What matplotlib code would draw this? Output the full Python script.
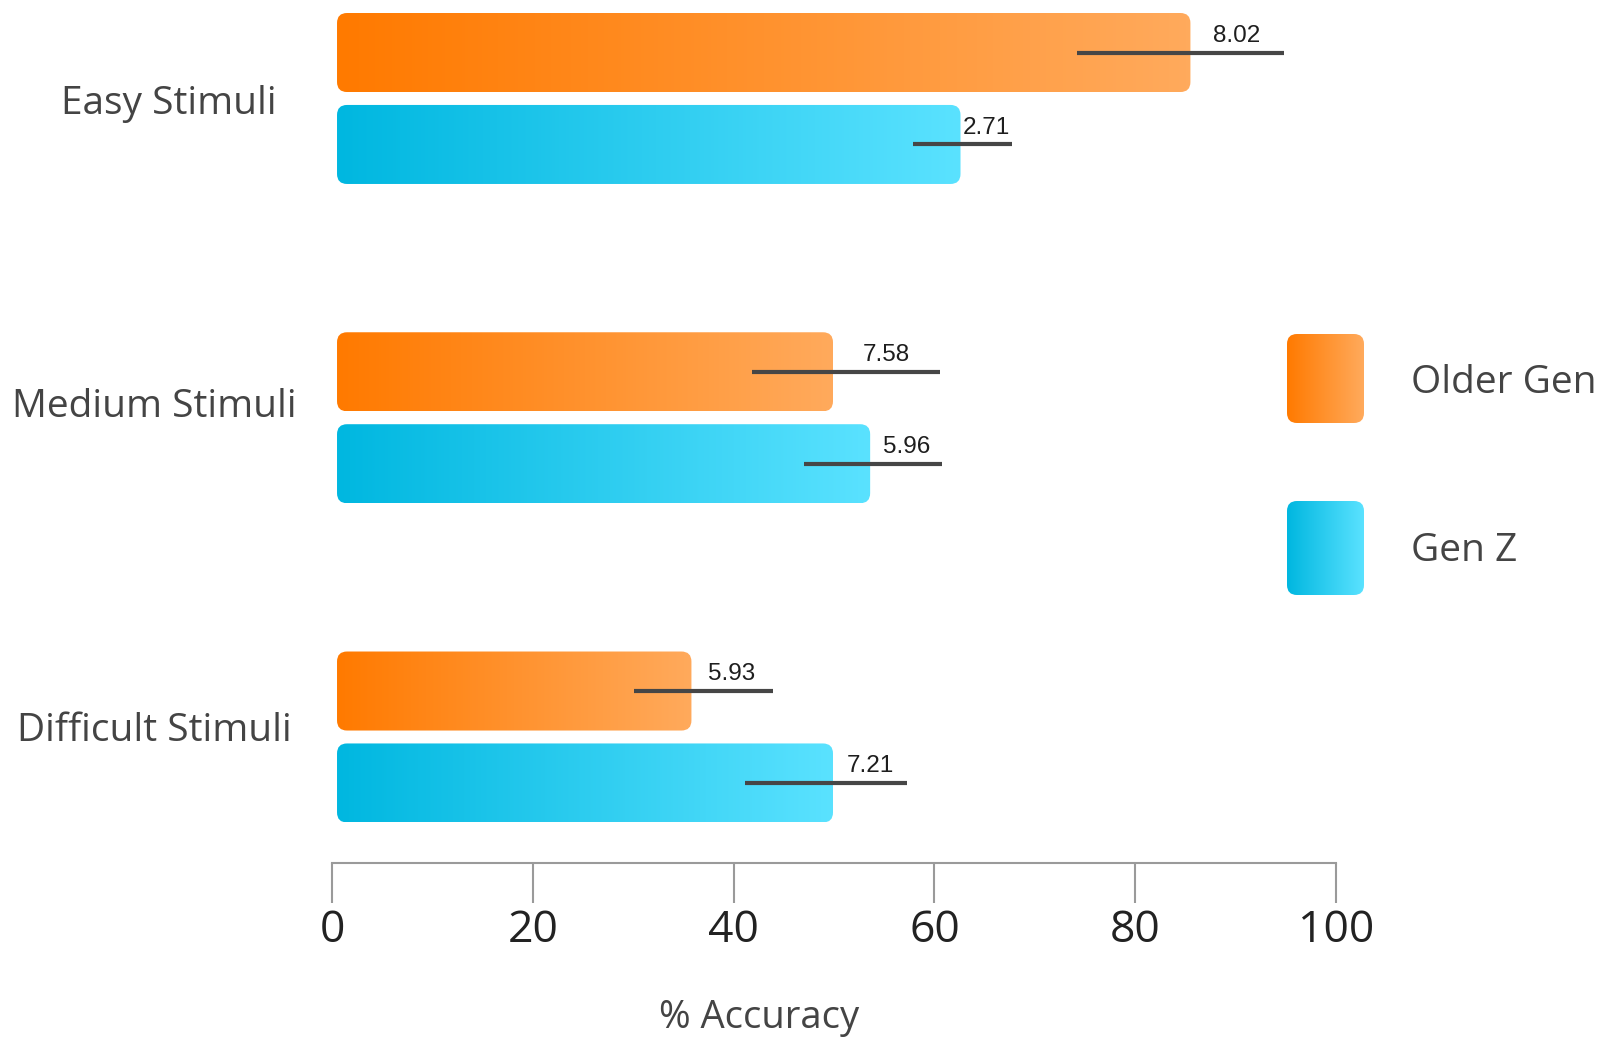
import numpy as np
import matplotlib
matplotlib.use("Agg")
import matplotlib.pyplot as plt
from matplotlib.colors import LinearSegmentedColormap
from matplotlib.patches import FancyBboxPatch

categories = ["Easy Stimuli", "Medium Stimuli", "Difficult Stimuli"]
older_gen = [85.5, 49.9, 35.8]
gen_z = [62.6, 53.6, 49.9]
older_err_mid = [84.5, 51.2, 37.0]
older_err = [10.3, 9.4, 6.9]
genz_err_mid = [62.8, 53.9, 49.2]
genz_err = [4.9, 6.9, 8.05]
older_sd_labels = ["8.02", "7.58", "5.93"]
genz_sd_labels = ["2.71", "5.96", "7.21"]
xticks = [0, 20, 40, 60, 80, 100]

main_font = ["Open Sans", "DejaVu Sans"]
orange_cmap = LinearSegmentedColormap.from_list("og", ["#ff7a00", "#ffaa5c"])
blue_cmap = LinearSegmentedColormap.from_list("gz", ["#00b7e0", "#5ae2ff"])

W, H = 1598, 1037
fig = plt.figure(figsize=(W / 100, H / 100), dpi=100)
ax = fig.add_axes([332 / W, (H - 863) / H, 1004 / W, 863 / H])
ax.patch.set_visible(False)

y = np.arange(len(categories))
bar_h = 0.2475
off = 0.144
left = 0.5
ylim = (2.3947, -0.3085)

older_bars = ax.barh(y - off, np.array(older_gen) - left, left=left, height=bar_h, color="none")
genz_bars = ax.barh(y + off, np.array(gen_z) - left, left=left, height=bar_h, color="none")

ax.set_xlim(0, 100)
ax.set_ylim(*ylim)

# px per data unit, for rounded corners
px_x = 1004 / 100
px_y = 863 / (ylim[0] - ylim[1])
radius_px = 10
grad = np.linspace(0, 1, 256).reshape(1, -1)


def gradient_bar(rect, cmap):
    x0, y0 = rect.get_x(), rect.get_y()
    w, h = rect.get_width(), rect.get_height()
    patch = FancyBboxPatch((x0, y0), w, h,
                           boxstyle=f"round,pad=0,rounding_size={radius_px / px_x}",
                           mutation_aspect=px_x / px_y,
                           facecolor="none", edgecolor="none")
    ax.add_patch(patch)
    im = ax.imshow(grad, cmap=cmap, aspect="auto", extent=[x0, x0 + w, y0 + h, y0],
                   interpolation="bicubic", zorder=1)
    im.set_clip_path(patch)


for r in older_bars:
    gradient_bar(r, orange_cmap)
for r in genz_bars:
    gradient_bar(r, blue_cmap)

ax.errorbar(older_err_mid, y - off, xerr=older_err, fmt="none", ecolor="#464646",
            elinewidth=3, capsize=0, zorder=3)
ax.errorbar(genz_err_mid, y + off, xerr=genz_err, fmt="none", ecolor="#464646",
            elinewidth=3, capsize=0, zorder=3)

for vals, mids, errs, labs, yy in [(older_gen, older_err_mid, older_err, older_sd_labels, y - off),
                                   (gen_z, genz_err_mid, genz_err, genz_sd_labels, y + off)]:
    for v, m, e, lab, yi in zip(vals, mids, errs, labs, yy):
        xc = (v + m + e) / 2
        ax.annotate(lab, (xc, yi), xytext=(0, 4), textcoords="offset points",
                    ha="center", va="bottom", fontsize=17.5, color="#1e1e1e",
                    family=["Liberation Sans", "DejaVu Sans"])

ax.set_xlim(0, 100)
ax.set_ylim(*ylim)

for s in ["top", "right", "left"]:
    ax.spines[s].set_visible(False)
ax.spines["bottom"].set_color("#9a9a9a")
ax.spines["bottom"].set_linewidth(1.5)
ax.spines["bottom"].set_bounds(0, 100)
ax.set_yticks([])
ax.set_xticks(xticks)
ax.set_xticklabels([str(t) for t in xticks], fontsize=32, color="#222222", family=main_font)
ax.tick_params(axis="x", length=29, width=1.5, color="#9a9a9a", pad=4)

# category labels
label_cx = [168.5, 154, 154]
label_cy = [104, 407, 731]
for name, cx, cy in zip(categories, label_cx, label_cy):
    fig.text(cx / W, 1 - cy / H, name, ha="center", va="center", fontsize=28,
             color="#444444", family=main_font)

fig.text(759 / W, 1 - 1018 / H, "% Accuracy", ha="center", va="center", fontsize=27.5,
         color="#444444", family=main_font)

# legend
leg_ax = fig.add_axes([0, 0, 1, 1], zorder=5)
leg_ax.set_xlim(0, W)
leg_ax.set_ylim(H, 0)
leg_ax.axis("off")
for (top, bottom), cmap, name, ty in [((334, 423), orange_cmap, "Older Gen", 383),
                                      ((501, 595), blue_cmap, "Gen Z", 551)]:
    box = FancyBboxPatch((1287, top), 77, bottom - top,
                         boxstyle="round,pad=0,rounding_size=10",
                         facecolor="none", edgecolor="none")
    leg_ax.add_patch(box)
    im = leg_ax.imshow(grad, cmap=cmap, aspect="auto", extent=[1287, 1364, bottom, top])
    im.set_clip_path(box)
    leg_ax.text(1411, ty, name, ha="left", va="center", fontsize=28, color="#444444",
                family=main_font)
leg_ax.set_xlim(0, W)
leg_ax.set_ylim(H, 0)

plt.savefig("out.png", dpi=100)
